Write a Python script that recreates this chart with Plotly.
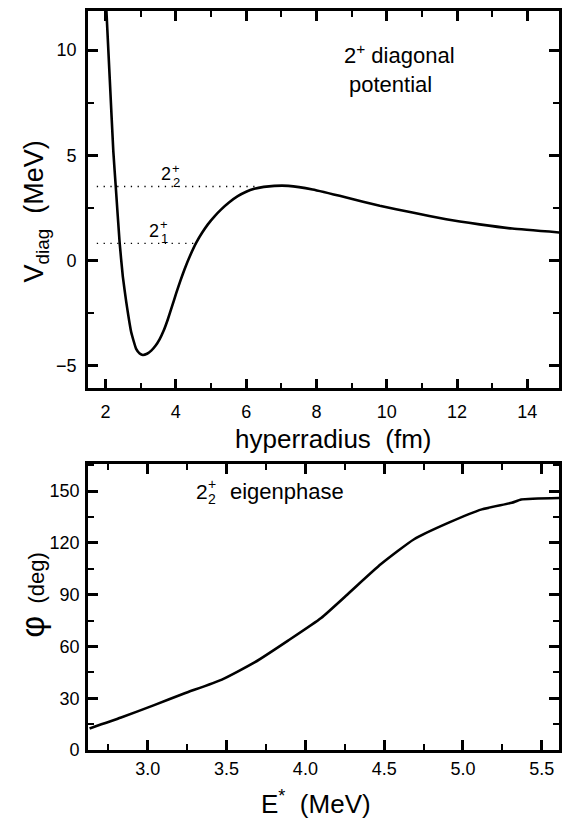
"""Diagonal potential and eigenphase, two stacked panels."""
import plotly.graph_objects as go

# top panel: 2+ diagonal potential vs hyperradius
r_fm = [2.02, 2.12, 2.22, 2.29, 2.40, 2.49, 2.59, 2.73, 2.87, 2.97, 3.06,
        3.18, 3.30, 3.42, 3.54, 3.66, 3.77, 3.89, 4.01, 4.13, 4.25, 4.41,
        4.58, 4.75, 4.91, 5.10, 5.29, 5.52, 5.76, 6.00, 6.23, 6.50, 6.80,
        7.20, 7.89, 8.85, 9.80, 10.73, 11.69, 12.64, 13.57, 14.95]
v_diag = [12.0, 8.6, 5.2, 3.5, 0.85, -0.75, -1.99, -3.41, -4.2, -4.42, -4.49,
          -4.43, -4.28, -4.05, -3.73, -3.30, -2.80, -2.18, -1.55, -0.95, -0.40,
          0.25, 0.85, 1.33, 1.72, 2.10, 2.43, 2.77, 3.06, 3.27, 3.41, 3.50,
          3.55, 3.55, 3.38, 3.0, 2.6, 2.28, 1.96, 1.72, 1.52, 1.33]

# resonance levels drawn as dotted lines
level_names = ["1", "2"]
level_energy = [0.82, 3.52]
level_r_start = [1.75, 1.75]
level_r_end = [4.58, 6.3]
level_label_r = [3.39, 3.72]
level_label_v = [1.41, 4.09]

# bottom panel: 2_2+ eigenphase vs excitation energy
e_mev = [2.63, 2.83, 3.04, 3.23, 3.47, 3.68, 3.89, 4.10, 4.27, 4.48, 4.69,
         4.91, 5.12, 5.31, 5.37, 5.62]
phase_deg = [12.5, 18.8, 26.0, 32.7, 40.8, 50.9, 63.4, 76.5, 90.4, 107.7,
             122.1, 131.7, 139.4, 143.2, 145.1, 146.0]

FONT = "Liberation Sans, Arial, sans-serif"
R_RANGE = [1.5, 14.9]
V_RANGE = [-6.08, 11.86]
E_RANGE = [2.62, 5.61]
PHI_RANGE = [0, 165.6]
TOP_DOMAIN = [0.4892, 1]
BOTTOM_DOMAIN = [0, 0.3868]

fig = go.Figure()

fig.add_trace(go.Scatter(
    x=r_fm, y=v_diag, mode="lines", xaxis="x", yaxis="y",
    line=dict(color="black", width=2.6, shape="spline", smoothing=0.4),
    showlegend=False))

for e, r0, r1 in zip(level_energy, level_r_start, level_r_end):
    fig.add_trace(go.Scatter(
        x=[r0, r1], y=[e, e], mode="lines", xaxis="x", yaxis="y",
        line=dict(color="black", width=1.3, dash="1.3px,5.5px"),
        showlegend=False))

fig.add_trace(go.Scatter(
    x=e_mev, y=phase_deg, mode="lines", xaxis="x2", yaxis="y2",
    line=dict(color="black", width=2.6, shape="spline", smoothing=0.5),
    showlegend=False))

# level labels: 2 with stacked + and subscript
for name, lr, lv in zip(level_names, level_label_r, level_label_v):
    fig.add_annotation(x=lr, y=lv, xref="x", yref="y", text="2",
                       showarrow=False, font=dict(size=18))
    fig.add_annotation(x=lr, y=lv, xref="x", yref="y", text="+",
                       showarrow=False, font=dict(size=13),
                       xshift=10, yshift=6)
    fig.add_annotation(x=lr, y=lv, xref="x", yref="y", text=name,
                       showarrow=False, font=dict(size=13),
                       xshift=10, yshift=-8)

fig.add_annotation(x=8.74, y=9.82, xref="x", yref="y", xanchor="left",
                   text="2<sup>+</sup> diagonal", showarrow=False,
                   font=dict(size=22))
fig.add_annotation(x=8.88, y=8.35, xref="x", yref="y", xanchor="left",
                   text="potential", showarrow=False, font=dict(size=22))

fig.add_annotation(x=3.29, y=150, xref="x2", yref="y2", xanchor="left",
                   text="2", showarrow=False, font=dict(size=21))
fig.add_annotation(x=3.29, y=150, xref="x2", yref="y2", xanchor="left",
                   text="+", showarrow=False, font=dict(size=14),
                   xshift=12, yshift=7)
fig.add_annotation(x=3.29, y=150, xref="x2", yref="y2", xanchor="left",
                   text="2", showarrow=False, font=dict(size=14),
                   xshift=12, yshift=-8)
fig.add_annotation(x=3.51, y=150, xref="x2", yref="y2", xanchor="left",
                   text="eigenphase", showarrow=False, font=dict(size=22))

# axis titles, placed in paper coordinates
titles = [
    dict(x=0.522, y=0.421, text="hyperradius&nbsp;&nbsp;(fm)", size=26,
         angle=0),
    dict(x=0.485, y=-0.071, text="E<sup>*</sup>&nbsp;&nbsp;(MeV)", size=26,
         angle=0),
    dict(x=-0.110, y=0.729, text="V<sub>diag</sub>&nbsp;&nbsp;(MeV)",
         size=27, angle=-90),
    dict(x=-0.119, y=0.21,
         text="<span style='font-size:34px'>φ</span>&nbsp;&nbsp;(deg)",
         size=22, angle=-90),
]
for t in titles:
    fig.add_annotation(x=t["x"], y=t["y"], xref="paper", yref="paper",
                       xanchor="center", yanchor="middle", text=t["text"],
                       showarrow=False, textangle=t["angle"],
                       font=dict(size=t["size"]))


def axis(rng, dtick, minor, **kw):
    d = dict(
        range=rng, dtick=dtick, tick0=0,
        showline=True, linecolor="black", linewidth=2.8, mirror="ticks",
        ticks="inside", tickwidth=2.6, ticklen=10, tickcolor="black",
        minor=dict(dtick=minor, ticks="inside", ticklen=6, tickwidth=2.3,
                   tickcolor="black"),
        showgrid=False, zeroline=False,
        tickfont=dict(size=18, color="black"),
    )
    d.update(kw)
    return d


fig.update_layout(
    xaxis=axis(R_RANGE, 2, 1, anchor="y", domain=[0, 1],
               ticklabelstandoff=5),
    yaxis=axis(V_RANGE, 5, 2.5, anchor="x", domain=TOP_DOMAIN,
               ticklabelstandoff=5),
    xaxis2=axis(E_RANGE, 0.5, 0.25, anchor="y2", domain=[0, 1],
                tickformat=".1f"),
    yaxis2=axis(PHI_RANGE, 30, 15, anchor="x2", domain=BOTTOM_DOMAIN,
                ticklabelstandoff=2),
    width=570, height=831,
    margin=dict(l=80, r=19, t=0, b=89),
    plot_bgcolor="white", paper_bgcolor="white",
    font=dict(family=FONT, color="black"),
)

fig.write_html("out.html")
